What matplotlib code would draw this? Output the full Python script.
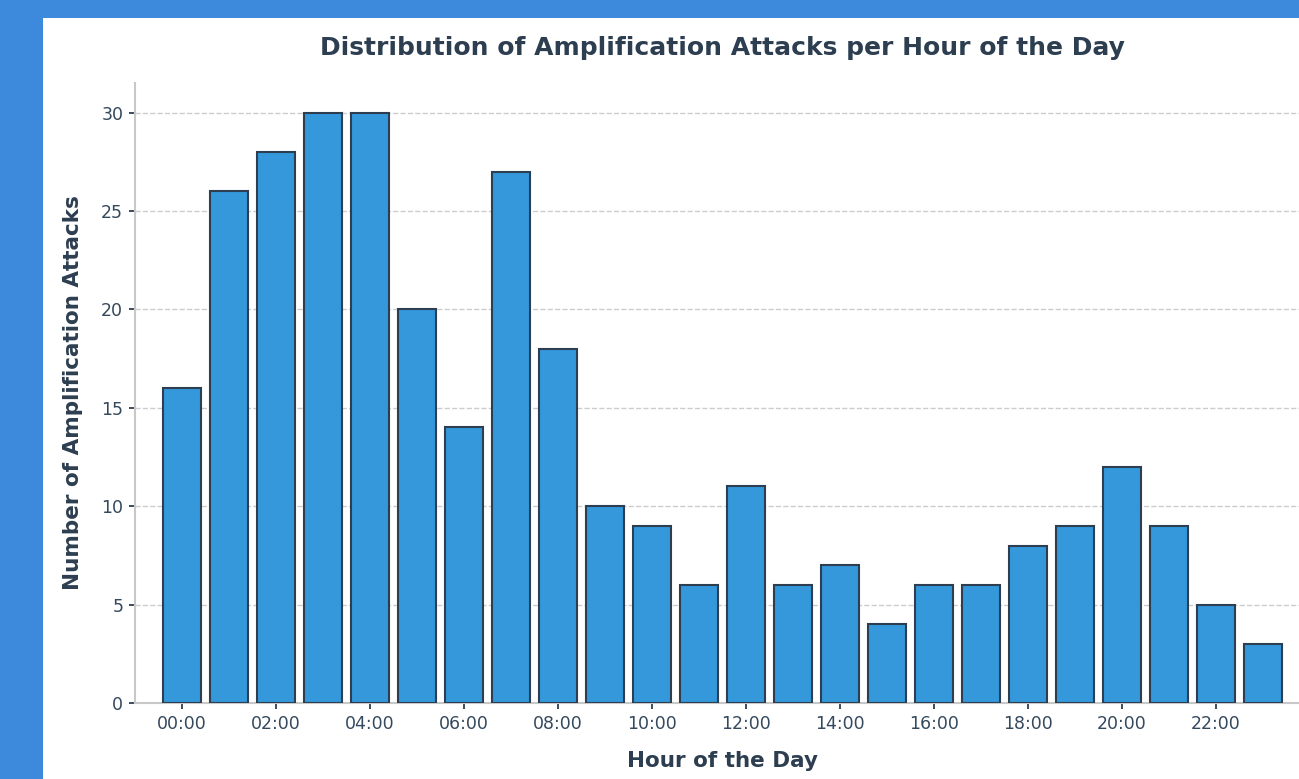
import matplotlib
matplotlib.use("Agg")
import matplotlib.pyplot as plt
from matplotlib.patches import Rectangle

plt.rcParams["font.family"] = ["DejaVu Sans"]

hours = list(range(24))
attacks = [16, 26, 28, 30, 30, 20, 14, 27, 18, 10, 9, 6, 11, 6, 7, 4, 6, 6, 8, 9, 12, 9, 5, 3]
tick_hours = list(range(0, 24, 2))
tick_labels = [f"{h:02d}:00" for h in tick_hours]

W, H = 1299, 779
fig = plt.figure(figsize=(W / 100, H / 100), dpi=100)
fig.patch.set_facecolor("#3d89dc")
fig.patches.append(Rectangle((43 / W, 0), 1 - 43 / W, 1 - 18 / H, transform=fig.transFigure,
                             facecolor="white", edgecolor="none", zorder=-5))

left, right, top, bottom = 135, 1310, 83, 703
ax = fig.add_axes([left / W, 1 - bottom / H, (right - left) / W, (bottom - top) / H])
ax.set_facecolor("white")
ax.bar(hours, attacks, width=0.8, color="#3498db", edgecolor="#2c3e50", linewidth=1.5, zorder=3)
ax.set_xlim(-1, 24)
ax.set_ylim(0, 31.5)
ax.set_xticks(tick_hours)
ax.set_xticklabels(tick_labels)
ax.set_yticks([0, 5, 10, 15, 20, 25, 30])
ax.tick_params(axis="both", labelsize=12.5, colors="#2c3e50", labelcolor="#34495e",
               length=4.5, width=1.3, pad=4)
ax.grid(axis="y", linestyle="--", color="#cccccc", linewidth=1, zorder=0)
for s in ["top", "right"]:
    ax.spines[s].set_visible(False)
for s in ["left", "bottom"]:
    ax.spines[s].set_color("#c8c8c8")
    ax.spines[s].set_linewidth(1.5)

ax.set_title("Distribution of Amplification Attacks per Hour of the Day", fontsize=18,
             fontweight="bold", color="#2c3e50", pad=20.5)
ax.set_xlabel("Hour of the Day", fontsize=15.5, fontweight="bold", color="#2c3e50", labelpad=13)
ax.set_ylabel("Number of Amplification Attacks", fontsize=15.5, fontweight="bold", color="#2c3e50", labelpad=13)

fig.savefig("out.png", dpi=100, facecolor=fig.get_facecolor())
